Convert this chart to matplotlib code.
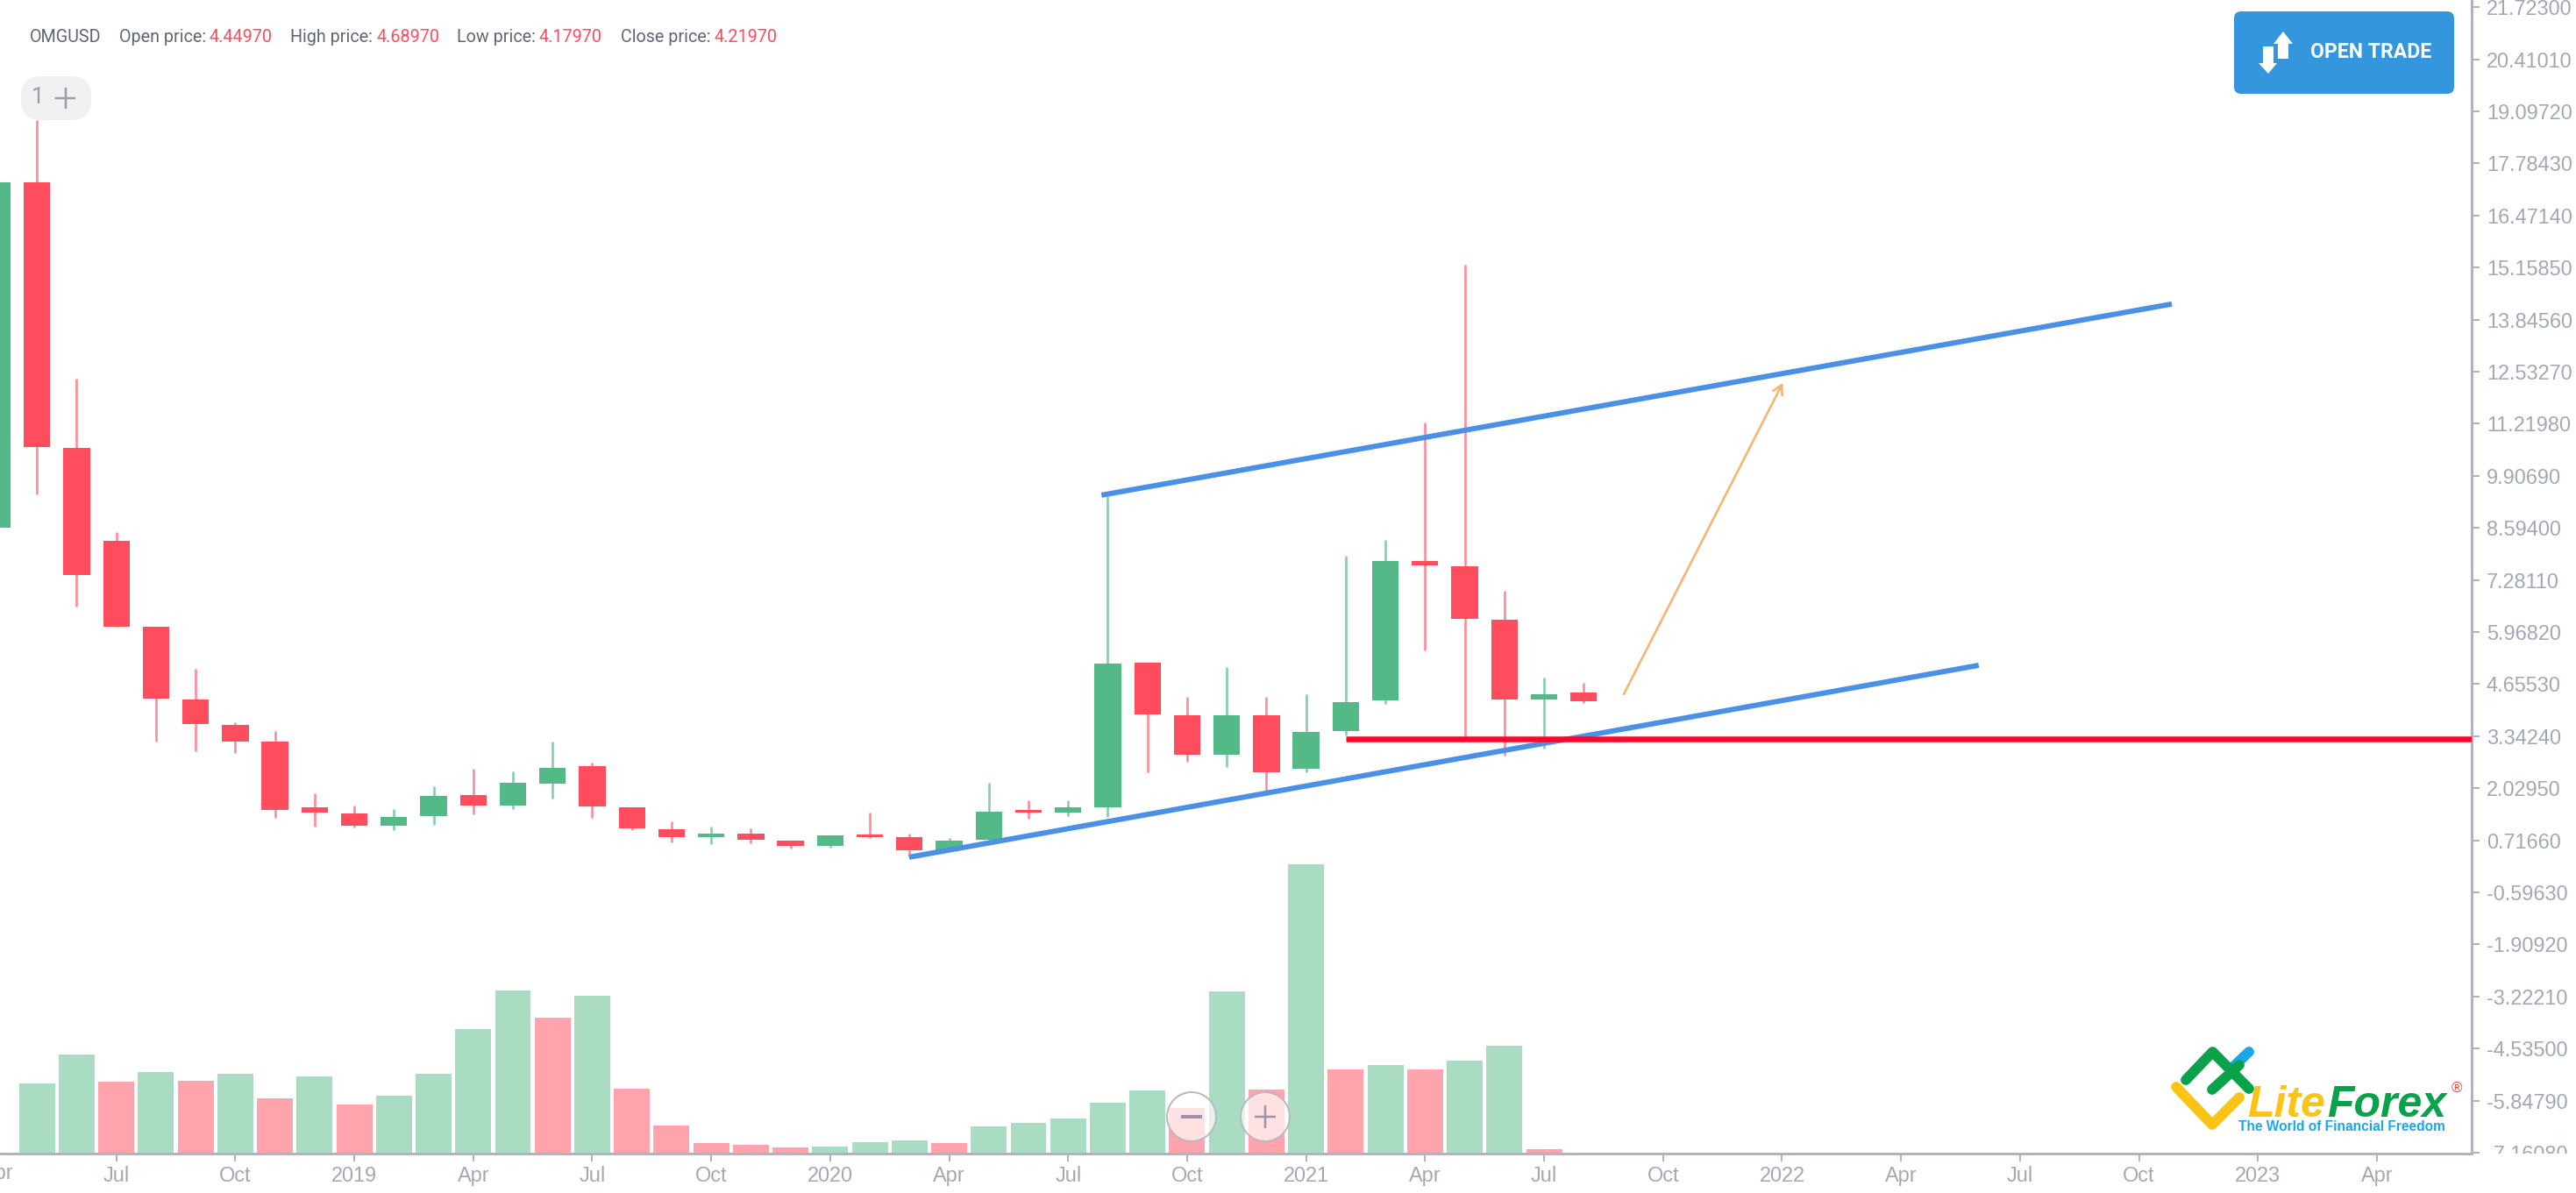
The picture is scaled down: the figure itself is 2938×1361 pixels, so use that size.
#!/usr/bin/env python3

import matplotlib
matplotlib.use('Agg')
import matplotlib.pyplot as plt
import numpy as np
from matplotlib.patches import Circle, FancyBboxPatch, Polygon
from matplotlib.transforms import Bbox

# monthly candles, Apr 2018 .. Aug 2021
open_price = [8.61, 17.31, 10.62, 8.26, 6.11, 4.27, 3.62, 3.20, 1.55,
              1.40, 1.09, 1.32, 1.86, 1.60, 2.15, 2.59, 1.55, 1.00, 0.80, 0.89, 0.71,
              0.58, 0.84, 0.80, 0.47, 0.72, 1.44, 1.42, 1.55, 5.19, 3.88, 2.87, 3.88,
              2.52, 3.47, 4.25, 7.75, 7.63, 6.27, 4.27, 4.4497]
high_price = [17.31, 18.88, 12.36, 8.50, 6.11, 5.04, 3.69, 3.47, 1.90,
              1.59, 1.50, 2.07, 2.51, 2.46, 3.21, 2.68, 1.55, 1.20, 1.07, 1.02, 0.71,
              0.85, 1.42, 0.89, 0.77, 2.17, 1.72, 1.72, 9.40, 5.19, 4.34, 5.09, 4.34,
              4.40, 7.89, 8.29, 11.25, 15.24, 7.01, 4.82, 4.6897]
low_price = [8.61, 9.43, 6.62, 6.11, 3.21, 2.96, 2.92, 1.29, 1.06,
             1.04, 0.98, 1.11, 1.38, 1.51, 1.76, 1.29, 0.97, 0.67, 0.63, 0.64, 0.51,
             0.54, 0.77, 0.31, 0.47, 0.69, 1.25, 1.33, 1.31, 2.43, 2.70, 2.57, 1.97,
             2.43, 3.36, 4.15, 5.50, 3.29, 2.86, 3.04, 4.1797]
close_price = [17.31, 10.63, 7.40, 6.11, 4.28, 3.65, 3.21, 1.49, 1.42,
               1.09, 1.31, 1.84, 1.59, 2.17, 2.55, 1.56, 1.02, 0.80, 0.89, 0.72, 0.57,
               0.84, 0.80, 0.47, 0.70, 1.44, 1.41, 1.54, 5.18, 3.89, 2.87, 3.88, 2.44,
               3.44, 4.20, 7.76, 7.66, 6.29, 4.27, 4.40, 4.2197]

# volume pane (relative units), the colour does not follow the candle colour
volume = [0, 80, 113, 82, 93, 83, 91, 63, 88,
          56, 66, 91, 142, 186, 155, 180, 74, 32, 12, 10, 7,
          8, 13, 15, 12, 31, 35, 40, 58, 72, 52, 185, 73,
          330, 96, 101, 96, 106, 123, 5, 0]
volume_dir = ['g', 'g', 'g', 'r', 'g', 'r', 'g', 'r', 'g',
              'r', 'g', 'g', 'g', 'g', 'r', 'g', 'r', 'r', 'r', 'r', 'r',
              'g', 'g', 'g', 'r', 'g', 'g', 'g', 'g', 'g', 'r', 'g', 'r',
              'g', 'r', 'g', 'r', 'g', 'g', 'r', 'g']

# x tick labels every three months, first one sits on Apr 2018
x_labels = ['Apr', 'Jul', 'Oct', '2019', 'Apr', 'Jul', 'Oct', '2020', 'Apr', 'Jul', 'Oct',
            '2021', 'Apr', 'Jul', 'Oct', '2022', 'Apr', 'Jul', 'Oct', '2023', 'Apr']

y_ticks = [21.72300, 20.41010, 19.09720, 17.78430, 16.47140, 15.15850, 13.84560, 12.53270,
           11.21980, 9.90690, 8.59400, 7.28110, 5.96820, 4.65530, 3.34240, 2.02950, 0.71660,
           -0.59630, -1.90920, -3.22210, -4.53500, -5.84790, -7.16080]

# drawn lines as (month index, price)
upper_line = [(27.84, 9.42), (54.83, 14.24)]
lower_line = [(22.99, 0.29), (49.96, 5.13)]
support_line = [(34.0, 3.27), (62.39, 3.27)]
arrow_line = [(41.01, 4.40), (45.02, 12.25)]

header = [('OMGUSD', None, 34, None), ('Open price:', '4.44970', 136, 239),
          ('High price:', '4.68970', 331, 430), ('Low price:', '4.17970', 521, 615),
          ('Close price:', '4.21970', 708, 815)]

RED = '#ff4d5e'
GREEN = '#53b987'
RED_WICK = '#ff8a96'
GREEN_WICK = '#86cda9'
RED_VOL = '#ffa3ac'
GREEN_VOL = '#a9dcc3'
AXIS = '#aeb3c1'
LABEL = '#a3a8b7'
PX = 0.72  # points per pixel at dpi 100

W, H = 2938, 1361
AX_RIGHT, AX_BOTTOM = 2819, 1316
plt.rcParams['font.family'] = ['Liberation Sans', 'DejaVu Sans']

fig = plt.figure(figsize=(W / 100, H / 100), dpi=100, facecolor='white')
pos = [0, (H - AX_BOTTOM) / H, AX_RIGHT / W, AX_BOTTOM / H]

x = np.arange(len(open_price))
x_min, x_max = 0.066, 62.39

# volume bars below everything
ax_vol = fig.add_axes(pos)
vol_colors = [GREEN_VOL if v == 'g' else RED_VOL for v in volume_dir]
ax_vol.bar(x, volume, width=0.905, color=vol_colors, linewidth=0)
ax_vol.set_xlim(x_min, x_max)
ax_vol.set_ylim(0, AX_BOTTOM)
ax_vol.axis('off')

ax = fig.add_axes(pos, facecolor='none')
ax.set_xlim(x_min, x_max)
ax.set_ylim(-7.183, 21.9065)

for i in x:
    up = close_price[i] >= open_price[i]
    ax.vlines(i, low_price[i], high_price[i], color=GREEN_WICK if up else RED_WICK,
              linewidth=2.6 * PX, zorder=2)
    body = max(abs(close_price[i] - open_price[i]), 0.07)
    ax.bar(i, body, bottom=min(open_price[i], close_price[i]), width=0.67,
           color=GREEN if up else RED, linewidth=0, zorder=3)

ax.plot(*zip(*upper_line), color='#4a90e6', linewidth=6 * PX, solid_capstyle='butt', zorder=4)
ax.plot(*zip(*lower_line), color='#4a90e6', linewidth=6 * PX, solid_capstyle='butt', zorder=4)
ax.plot(*zip(*support_line), color='#f5092b', linewidth=6.5 * PX, solid_capstyle='butt', zorder=5)
ax.annotate('', xy=arrow_line[1], xytext=arrow_line[0], zorder=5,
            arrowprops=dict(arrowstyle='->,head_length=0.75,head_width=0.42', color='#f7b470',
                            linewidth=2.6 * PX, shrinkA=0, shrinkB=0))

for side in ['left', 'top']:
    ax.spines[side].set_visible(False)
for side in ['right', 'bottom']:
    ax.spines[side].set_color(AXIS)
    ax.spines[side].set_linewidth(3 * PX)

ax.yaxis.tick_right()
ax.set_yticks(y_ticks)
ax.set_yticklabels([f'{v:.5f}' for v in y_ticks])
ax.tick_params(axis='y', length=9 * PX, width=2 * PX, color=AXIS, labelcolor=LABEL,
               labelsize=23.5 * PX, pad=8 * PX)
ax.set_xticks(np.arange(3, 61, 3))
ax.set_xticklabels(x_labels[1:])
ax.tick_params(axis='x', length=9 * PX, width=2 * PX, color=AXIS, labelcolor=LABEL,
               labelsize=23.5 * PX, pad=5 * PX)

# first month label falls off the left edge, as in the screenshot
ax.text(0, (AX_BOTTOM - 1338) / AX_BOTTOM, x_labels[0], transform=ax.get_xaxis_transform(),
        ha='center', va='center', color=LABEL, fontsize=23.5 * PX, clip_on=False)

# bottom price label is cut by the pane
for label in ax.get_yticklabels():
    label.set_clip_on(True)
    label.set_clip_box(Bbox([[AX_RIGHT, H - AX_BOTTOM], [W, H]]))

# page furniture in pixel coordinates
over = fig.add_axes([0, 0, 1, 1], facecolor='none')
over.set_xlim(0, W)
over.set_ylim(H, 0)
over.axis('off')

for name, value, x_name, x_value in header:
    over.text(x_name, 42, name, family='Roboto', fontsize=19.8 * PX, color='#5f6677', va='center')
    if value:
        over.text(x_value, 42, value, family='Roboto', fontsize=19.8 * PX, color=RED, va='center')

over.add_patch(FancyBboxPatch((24 + 22, 87 + 22), 80 - 44, 50 - 44,
                              boxstyle='round,pad=22,rounding_size=22',
                              linewidth=0, facecolor='#f0f1f3', zorder=1))
over.text(43, 111, '1', family='Roboto', fontsize=26 * PX, color='#9a9ea8', ha='center', va='center', zorder=2)
over.plot([64, 85], [112, 112], color='#9a9ea8', linewidth=2.5 * PX, zorder=2)
over.plot([75, 75], [101, 123], color='#9a9ea8', linewidth=2.5 * PX, zorder=2)

# OPEN TRADE button
over.add_patch(FancyBboxPatch((2556, 21), 235, 78, boxstyle='round,pad=8,rounding_size=8',
                              linewidth=0, facecolor='#3496dc'))
over.text(2635, 59, 'OPEN TRADE', family='Roboto', weight='bold', fontsize=23 * PX,
          color='white', va='center')
over.add_patch(Polygon([(2604, 36), (2615, 50), (2610, 50), (2610, 67), (2598, 67), (2598, 50), (2593, 50)],
                       facecolor='white', linewidth=0))
over.add_patch(Polygon([(2587, 84), (2597, 72), (2593, 72), (2593, 53), (2581, 53), (2581, 72), (2576, 72)],
                       facecolor='white', linewidth=0))

# zoom buttons over the volume bars
for cx in [1359, 1443]:
    over.add_patch(Circle((cx, 1274), 28, facecolor=(1, 1, 1, 0.68), edgecolor='#b9b9bf', linewidth=2 * PX))
over.plot([1347, 1371], [1274, 1274], color='#9b93a8', linewidth=4 * PX, solid_capstyle='butt')
over.plot([1431, 1455], [1274, 1274], color='#9b93a8', linewidth=2.5 * PX, solid_capstyle='butt')
over.plot([1443, 1443], [1261, 1287], color='#9b93a8', linewidth=2.5 * PX, solid_capstyle='butt')

# LiteForex logo
over.plot([2546, 2565], [1218, 1200], color='#1ba7e8', linewidth=8.5, solid_capstyle='round')
over.plot([2493, 2523.5, 2565], [1232, 1200, 1242], color='#0aa14b', linewidth=8.5,
          solid_capstyle='round', solid_joinstyle='round')
over.plot([2523, 2554], [1243, 1215], color='#0aa14b', linewidth=8.5, solid_capstyle='round')
over.plot([2482, 2523, 2554], [1240, 1283, 1252], color='#fbc316', linewidth=8.5,
          solid_capstyle='round', solid_joinstyle='round')
over.text(2563, 1274, 'Lite', weight='bold', style='italic', fontsize=50 * PX, color='#fbc316', va='baseline')
over.text(2654, 1274, 'Forex', weight='bold', style='italic', fontsize=50 * PX, color='#0aa14b', va='baseline')
over.text(2802, 1242, '®', fontsize=17 * PX, color='#e8473f', ha='center', va='center')
over.text(2553, 1286, 'The World of Financial Freedom', weight='bold', fontsize=15.5 * PX,
          color='#1ba7e8', va='center')

plt.savefig('out.png', dpi=100, facecolor='white')
plt.close()
